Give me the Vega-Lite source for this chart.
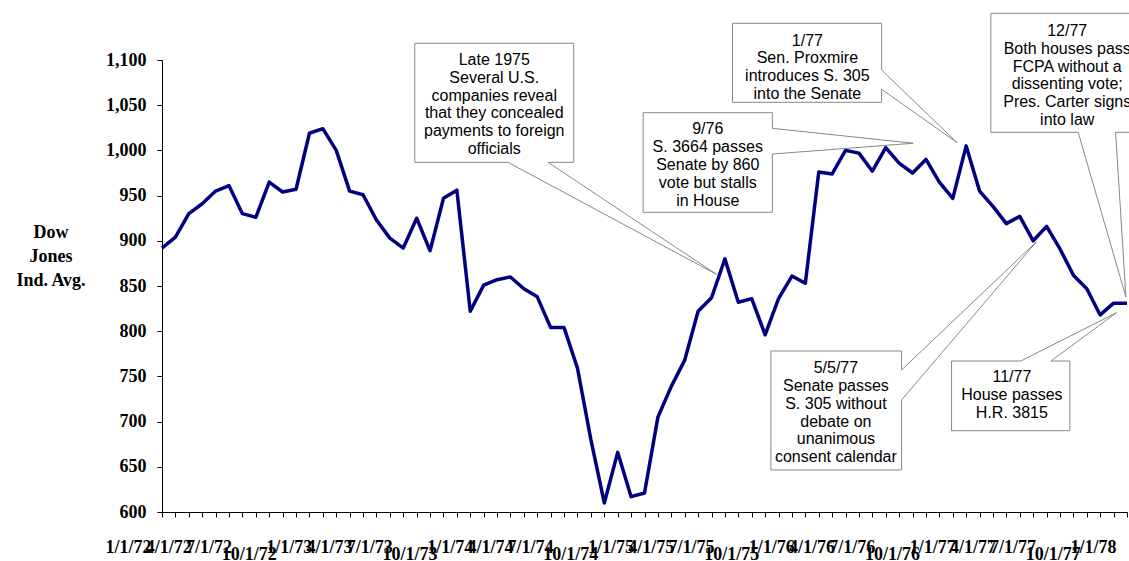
{
  "$schema": "https://vega.github.io/schema/vega-lite/v6.json",
  "autosize": {"type": "none"},
  "padding": {"left": 162, "top": 60, "right": 2, "bottom": 49},
  "width": 965,
  "height": 452,
  "background": "white",
  "config": {"view": {"stroke": null}},
  "datasets": {
    "dow": [
      {"m":0,"dow":892},{"m":1,"dow":904},{"m":2,"dow":930},{"m":3,"dow":941},{"m":4,"dow":955},{"m":5,"dow":961},
      {"m":6,"dow":930},{"m":7,"dow":926},{"m":8,"dow":965},{"m":9,"dow":954},{"m":10,"dow":957},{"m":11,"dow":1019},
      {"m":12,"dow":1024},{"m":13,"dow":1000},{"m":14,"dow":955},{"m":15,"dow":951},{"m":16,"dow":923},{"m":17,"dow":903},
      {"m":18,"dow":892},{"m":19,"dow":925},{"m":20,"dow":889},{"m":21,"dow":947},{"m":22,"dow":956},{"m":23,"dow":822},
      {"m":24,"dow":851},{"m":25,"dow":857},{"m":26,"dow":860},{"m":27,"dow":847},{"m":28,"dow":838},{"m":29,"dow":804},
      {"m":30,"dow":804},{"m":31,"dow":759},{"m":32,"dow":680},{"m":33,"dow":610},{"m":34,"dow":666},{"m":35,"dow":617},
      {"m":36,"dow":621},{"m":37,"dow":705},{"m":38,"dow":739},{"m":39,"dow":768},{"m":40,"dow":822},{"m":41,"dow":837},
      {"m":42,"dow":880},{"m":43,"dow":832},{"m":44,"dow":836},{"m":45,"dow":796},{"m":46,"dow":836},{"m":47,"dow":861},
      {"m":48,"dow":853},{"m":49,"dow":976},{"m":50,"dow":974},{"m":51,"dow":1000},{"m":52,"dow":997},{"m":53,"dow":977},
      {"m":54,"dow":1003},{"m":55,"dow":986},{"m":56,"dow":975},{"m":57,"dow":990},{"m":58,"dow":965},{"m":59,"dow":947},
      {"m":60,"dow":1005},{"m":61,"dow":955},{"m":62,"dow":938},{"m":63,"dow":919},{"m":64,"dow":927},{"m":65,"dow":900},
      {"m":66,"dow":916},{"m":67,"dow":891},{"m":68,"dow":862},{"m":69,"dow":847},{"m":70,"dow":818},{"m":71,"dow":831},
      {"m":72,"dow":831}
    ],
    "callouts": [
      {"id":"A","k":1,"m":18.86,"dow":1118.5},{"id":"A","k":2,"m":30.72,"dow":1118.5},{"id":"A","k":3,"m":30.72,"dow":986.8},
      {"id":"A","k":4,"m":28.81,"dow":986.8},{"id":"A","k":5,"m":41.37,"dow":862.9},{"id":"A","k":6,"m":25.82,"dow":986.8},
      {"id":"A","k":7,"m":18.86,"dow":986.8},{"id":"A","k":8,"m":18.86,"dow":1118.5},
      {"id":"B","k":1,"m":35.90,"dow":1041.7},{"id":"B","k":2,"m":45.54,"dow":1041.7},{"id":"B","k":3,"m":45.54,"dow":1024.4},
      {"id":"B","k":4,"m":56.05,"dow":1007.9},{"id":"B","k":5,"m":45.54,"dow":996.0},{"id":"B","k":6,"m":45.54,"dow":931.5},
      {"id":"B","k":7,"m":35.90,"dow":931.5},{"id":"B","k":8,"m":35.90,"dow":1041.7},
      {"id":"C","k":1,"m":42.57,"dow":1140.6},{"id":"C","k":2,"m":53.69,"dow":1140.6},{"id":"C","k":3,"m":53.69,"dow":1088.9},
      {"id":"C","k":4,"m":59.33,"dow":1008.5},{"id":"C","k":5,"m":53.69,"dow":1067.6},{"id":"C","k":6,"m":53.69,"dow":1053.2},
      {"id":"C","k":7,"m":42.57,"dow":1053.2},{"id":"C","k":8,"m":42.57,"dow":1140.6},
      {"id":"D","k":1,"m":61.84,"dow":1151.7},{"id":"D","k":2,"m":73.19,"dow":1151.7},{"id":"D","k":3,"m":73.19,"dow":1020.0},
      {"id":"D","k":4,"m":71.15,"dow":1020.0},{"id":"D","k":5,"m":71.92,"dow":837.8},{"id":"D","k":6,"m":68.36,"dow":1020.0},
      {"id":"D","k":7,"m":61.84,"dow":1020.0},{"id":"D","k":8,"m":61.84,"dow":1151.7},
      {"id":"E","k":1,"m":45.43,"dow":778.1},{"id":"E","k":2,"m":55.18,"dow":778.1},{"id":"E","k":3,"m":55.18,"dow":757.1},
      {"id":"E","k":4,"m":65.25,"dow":899.0},{"id":"E","k":5,"m":55.18,"dow":723.9},{"id":"E","k":6,"m":55.18,"dow":646.5},
      {"id":"E","k":7,"m":45.43,"dow":646.5},{"id":"E","k":8,"m":45.43,"dow":778.1},
      {"id":"F","k":1,"m":58.91,"dow":767.0},{"id":"F","k":2,"m":64.08,"dow":767.0},{"id":"F","k":3,"m":71.22,"dow":820.5},
      {"id":"F","k":4,"m":66.32,"dow":767.0},{"id":"F","k":5,"m":67.74,"dow":767.0},{"id":"F","k":6,"m":67.74,"dow":689.9},
      {"id":"F","k":7,"m":58.91,"dow":689.9},{"id":"F","k":8,"m":58.91,"dow":767.0}
    ],
    "notes": [
      {"m":24.79,"dow":1100.0,"label":"Late 1975\nSeveral U.S.\ncompanies reveal\nthat they concealed\npayments to foreign\nofficials"},
      {"m":40.72,"dow":1023.3,"label":"9/76\nS. 3664 passes\nSenate by 860\nvote but stalls\nin House"},
      {"m":48.15,"dow":1121.4,"label":"1/77\nSen. Proxmire\nintroduces S. 305\ninto the Senate"},
      {"m":67.54,"dow":1132.1,"label":"12/77\nBoth houses pass\nFCPA without a\ndissenting vote;\nPres. Carter signs\ninto law"},
      {"m":50.28,"dow":759.0,"label":"5/5/77\nSenate passes\nS. 305 without\ndebate on\nunanimous\nconsent calendar"},
      {"m":63.41,"dow":749.0,"label":"11/77\nHouse passes\nH.R. 3815"}
    ]
  },
  "encoding": {
    "x": {
      "field": "m", "type": "quantitative",
      "scale": {"domain": [0, 72], "nice": false, "zero": false},
      "axis": {
        "title": null,
        "values": [0,1,2,3,4,5,6,7,8,9,10,11,12,13,14,15,16,17,18,19,20,21,22,23,24,25,26,27,28,29,30,31,32,33,34,35,36,37,38,39,40,41,42,43,44,45,46,47,48,49,50,51,52,53,54,55,56,57,58,59,60,61,62,63,64,65,66,67,68,69,70,71,72],
        "labelExpr": "datum.value % 3 == 0 ? ((datum.value % 12) + 1) + '/1/' + (72 + floor(datum.value / 12)) : ''",
        "grid": false,
        "domainColor": "black",
        "tickColor": "black",
        "tickSize": 5,
        "labelFont": "Liberation Serif",
        "labelFontWeight": "bold",
        "labelFontSize": 18,
        "labelColor": "black",
        "labelAlign": "center",
        "labelBaseline": "middle",
        "labelOffset": -34,
        "labelPadding": {"condition": {"test": "datum.value % 12 == 9", "value": 37}, "value": 30},
        "labelOverlap": false,
        "labelFlush": false,
        "labelBound": false
      }
    },
    "y": {
      "field": "dow", "type": "quantitative",
      "scale": {"domain": [600, 1100], "nice": false, "zero": false},
      "axis": {
        "title": ["Dow", "Jones", "Ind. Avg."],
        "titleAngle": 0,
        "titleAlign": "center",
        "titleBaseline": "middle",
        "titleX": -111.5,
        "titleY": 172,
        "titleLineHeight": 24,
        "titleFont": "Liberation Serif",
        "titleFontWeight": "bold",
        "titleFontSize": 18,
        "titleColor": "black",
        "values": [600,650,700,750,800,850,900,950,1000,1050,1100],
        "format": ",d",
        "grid": false,
        "domainColor": "black",
        "tickColor": "black",
        "tickSize": 5,
        "labelPadding": 11,
        "labelFont": "Liberation Serif",
        "labelFontWeight": "bold",
        "labelFontSize": 18,
        "labelColor": "black"
      }
    }
  },
  "layer": [
    {
      "data": {"name": "dow"},
      "mark": {"type": "line", "color": "#000080", "strokeWidth": 3.5, "strokeJoin": "round"}
    },
    {
      "data": {"name": "callouts"},
      "mark": {"type": "line", "color": "#888888", "strokeWidth": 1},
      "encoding": {
        "detail": {"field": "id", "type": "nominal"},
        "order": {"field": "k", "type": "quantitative"}
      }
    },
    {
      "data": {"name": "notes"},
      "mark": {"type": "text", "font": "Liberation Sans", "fontSize": 16, "lineHeight": 17.8, "lineBreak": "\n", "align": "center", "baseline": "middle", "color": "black"},
      "encoding": {
        "text": {"field": "label", "type": "nominal"}
      }
    }
  ]
}
